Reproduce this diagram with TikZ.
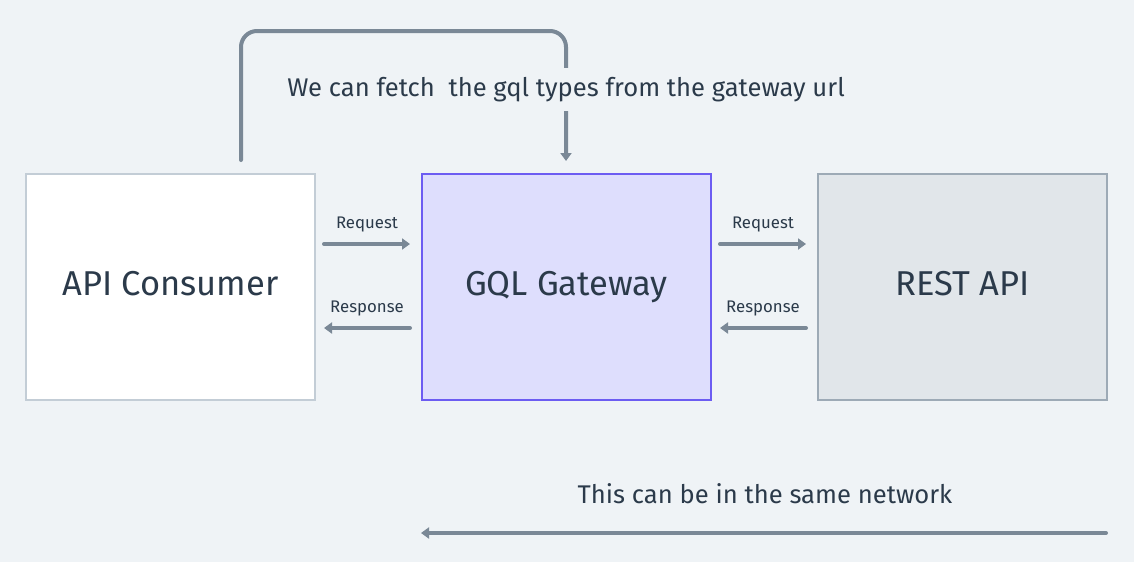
\documentclass[tikz,border=0pt]{standalone}
\usepackage{fontspec}
\setmainfont{Fira Sans}
\usetikzlibrary{arrows.meta}
\definecolor{bg}{HTML}{EFF3F6}
\definecolor{arr}{HTML}{7A8896}
\definecolor{txt}{HTML}{2B3A4A}
\definecolor{cbd}{HTML}{C3CDD6}
\definecolor{gfill}{HTML}{DEDEFD}
\definecolor{gbd}{HTML}{6C5CF2}
\definecolor{rfill}{HTML}{E1E6EA}
\definecolor{rbd}{HTML}{9DAAB6}
\tikzset{
  box/.style={draw, line width=2pt, minimum width=289pt, minimum height=226pt, inner sep=0pt, text=txt, font=\fontsize{34.5}{40}\selectfont},
  conn/.style={draw=arr, line width=4pt, line cap=round, -{Triangle[length=8pt,width=11pt]}},
  small/.style={text=txt, font=\fontsize{16.8}{20}\selectfont, inner sep=0pt},
  big/.style={text=txt, font=\fontsize{25.6}{30}\selectfont, inner sep=0pt}
}
\begin{document}
\begin{tikzpicture}[x=1pt,y=-1pt]
\fill[bg] (0,0) rectangle (1134,562);
\useasboundingbox (0,0) rectangle (1134,562);
\node[box, fill=white, draw=cbd] (api) at (170.5,287) {\raisebox{7pt}{API Consumer}};
\node[box, fill=gfill, draw=gbd] (gql) at (566.5,287) {\raisebox{7pt}{GQL Gateway}};
\node[box, fill=rfill, draw=rbd] (rest) at (962.5,287) {\raisebox{7pt}{REST API}};
\coordinate (s) at (241,160);
\coordinate (e) at (566,161);
\draw[conn, rounded corners=16pt] (s) -- (241,31) -- (566,31) -- (e);
\node[big, fill=bg, inner ysep=9pt, inner xsep=2pt] (lbl) at (566,89.5) {We can fetch\ \ the gql types from the gateway url};
% request/response
\coordinate (a1) at (324,244); \coordinate (g1) at (410,244);
\coordinate (a2) at (324,328); \coordinate (g2) at (410,328);
\coordinate (g3) at (720,244); \coordinate (r3) at (806,244);
\coordinate (g4) at (720,328); \coordinate (r4) at (806,328);
\draw[conn] (a1) -- (g1) node[small, midway, above=10pt] (q1) {Request};
\draw[conn] (g2) -- (a2) node[small, midway, above=10pt] (p1) {Response};
\draw[conn] (g3) -- (r3) node[small, midway, above=10pt] (q2) {Request};
\draw[conn] (r4) -- (g4) node[small, midway, above=10pt] (p2) {Response};
% bottom
\node[big] (net) at (765,493.5) {This can be in the same network};
\coordinate (b1) at (1106,533); \coordinate (b2) at (421,533);
\draw[conn] (b1) -- (b2);
\end{tikzpicture}
\end{document}
